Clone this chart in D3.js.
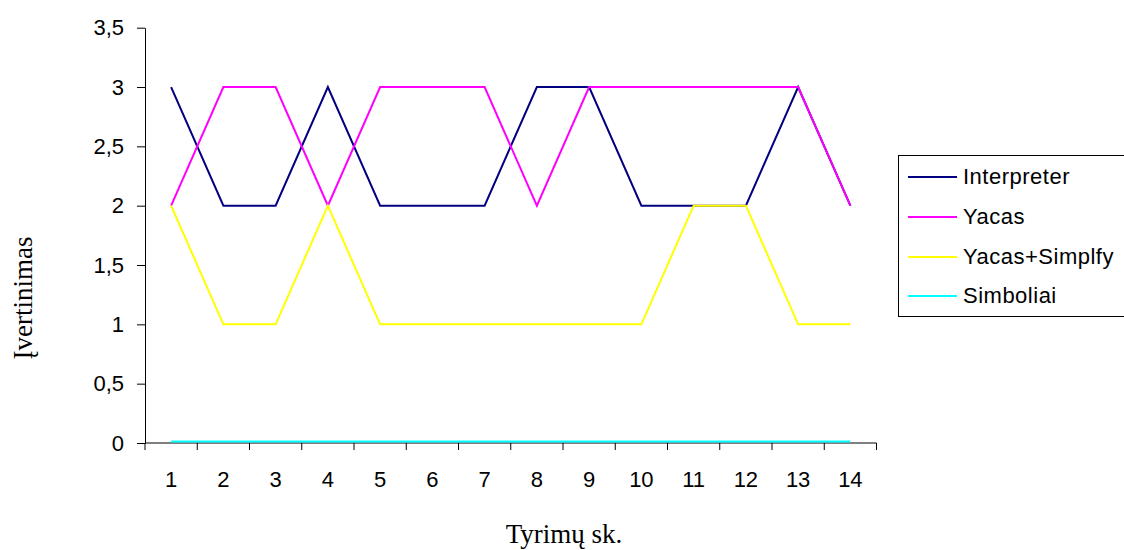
<!DOCTYPE html>
<html>
<head>
<meta charset="utf-8">
<script src="https://cdn.jsdelivr.net/npm/d3@7"></script>
<style>
  html, body { margin: 0; padding: 0; background: #fff; overflow: hidden; }
  svg { display: block; }
</style>
</head>
<body>
<svg id="chart" width="1124" height="550"></svg>
<script>
// Test run numbers along the x axis
const categories = [1, 2, 3, 4, 5, 6, 7, 8, 9, 10, 11, 12, 13, 14];

// Scores per test run
const interpreter  = [3, 2, 2, 3, 2, 2, 2, 3, 3, 2, 2, 2, 3, 2];
const yacas        = [2, 3, 3, 2, 3, 3, 3, 2, 3, 3, 3, 3, 3, 2];
const yacasSimplfy = [2, 1, 1, 2, 1, 1, 1, 1, 1, 1, 2, 2, 1, 1];
const simboliai    = [0, 0, 0, 0, 0, 0, 0, 0, 0, 0, 0, 0, 0, 0];

const seriesNames  = ["Interpreter", "Yacas", "Yacas+Simplfy", "Simboliai"];
const seriesColors = ["#000080", "#FF00FF", "#FFFF00", "#00FFFF"];
const seriesValues = [interpreter, yacas, yacasSimplfy, simboliai];

const yTicks = [0, 0.5, 1, 1.5, 2, 2.5, 3, 3.5];

const svg = d3.select("#chart");
const plot = { left: 145, right: 876.5, top: 27.7, bottom: 443 };
const sans = "Liberation Sans, Arial, sans-serif";
const serif = "Liberation Serif, Times New Roman, serif";

const x = d3.scaleBand()
  .domain(categories)
  .range([plot.left, plot.right])
  .paddingInner(0).paddingOuter(0);

const y = d3.scaleLinear()
  .domain([0, 3.5])
  .range([plot.bottom, plot.top]);

const fmt = v => String(v).replace(".", ",");

// Y axis
const yAxis = svg.append("g")
  .attr("transform", `translate(${plot.left},0)`)
  .call(d3.axisLeft(y).tickValues(yTicks).tickFormat(fmt).tickSize(8).tickPadding(13).tickSizeOuter(0));
yAxis.attr("font-family", sans).attr("font-size", 22);
yAxis.select(".domain").attr("stroke", "#000").attr("stroke-width", 1);
yAxis.selectAll(".tick line").attr("stroke", "#000");
yAxis.selectAll("text").attr("fill", "#000");

// X axis: ticks on category boundaries, labels centred in each band
const boundaries = categories.map(c => x(c)).concat([plot.right]);
const xg = svg.append("g");
xg.append("line")
  .attr("x1", plot.left).attr("x2", plot.right)
  .attr("y1", plot.bottom).attr("y2", plot.bottom)
  .attr("stroke", "#000");
xg.selectAll("line.tick").data(boundaries).join("line")
  .attr("class", "tick")
  .attr("x1", d => d).attr("x2", d => d)
  .attr("y1", plot.bottom).attr("y2", plot.bottom + 7)
  .attr("stroke", "#000");
xg.selectAll("text").data(categories).join("text")
  .attr("x", d => x(d) + x.bandwidth() / 2)
  .attr("y", 487)
  .attr("text-anchor", "middle")
  .attr("font-family", sans)
  .attr("font-size", 22)
  .text(d => d);

// Series lines
const line = d3.line()
  .x((d, i) => x(categories[i]) + x.bandwidth() / 2)
  .y(d => y(d));

seriesValues.forEach((vals, k) => {
  svg.append("path")
    .datum(vals)
    .attr("fill", "none")
    .attr("stroke", seriesColors[k])
    .attr("stroke-width", 2)
    .attr("stroke-linejoin", "miter")
    .attr("transform", k === 3 ? "translate(0,-1.5)" : null)
    .attr("d", line);
});

// Axis titles
svg.append("text")
  .attr("transform", `translate(31.5,298) rotate(-90)`)
  .attr("text-anchor", "middle")
  .attr("font-family", serif)
  .attr("font-size", 27)
  .text("Įvertinimas");

svg.append("text")
  .attr("x", 564)
  .attr("y", 543)
  .attr("text-anchor", "middle")
  .attr("font-family", serif)
  .attr("font-size", 27)
  .text("Tyrimų sk.");

// Legend
const legend = svg.append("g");
legend.append("rect")
  .attr("x", 898.5).attr("y", 155.5)
  .attr("width", 240).attr("height", 161)
  .attr("fill", "#fff").attr("stroke", "#000");
const rowY = [177, 217, 257, 296];
seriesNames.forEach((name, k) => {
  legend.append("line")
    .attr("x1", 908).attr("x2", 957)
    .attr("y1", rowY[k]).attr("y2", rowY[k])
    .attr("stroke", seriesColors[k]).attr("stroke-width", 2);
  legend.append("text")
    .attr("x", 963).attr("y", rowY[k] + 6.5)
    .attr("font-family", sans)
    .attr("font-size", 22)
    .attr("letter-spacing", 0.5)
    .text(name);
});
</script>
</body>
</html>
